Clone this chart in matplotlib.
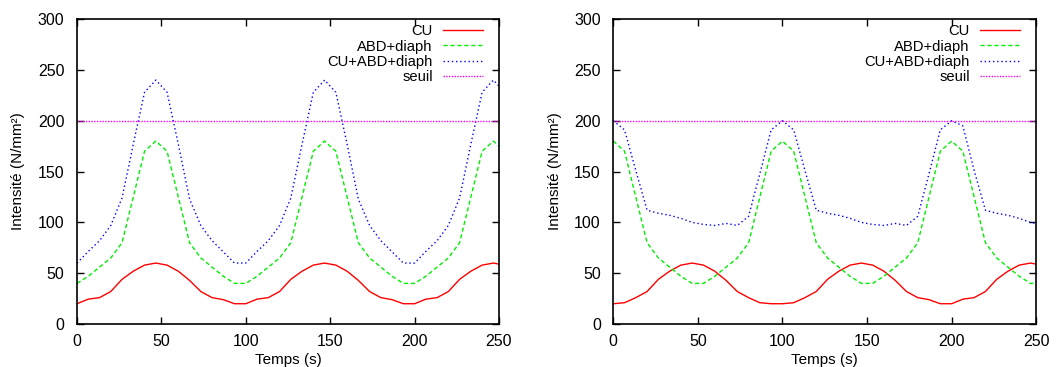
import numpy as np
import matplotlib.pyplot as plt

plt.rcParams['font.family'] = ['Liberation Sans', 'DejaVu Sans']
plt.rcParams['font.size'] = 11

# temps echantillonne (s)
temps = np.arange(39) * 100 / 15

# graphe de gauche
cu_g = [20, 24.5, 26, 32, 44, 52, 58, 60, 58, 52, 43, 32, 26, 24, 20,
        20, 24.5, 26, 32, 44, 52, 58, 60, 58, 52, 43, 32, 26, 24, 20,
        20, 24.5, 26, 32, 44, 52, 58, 60, 58]
abd_g = [40, 47, 56, 65, 80, 125, 170, 180, 170, 125, 80, 65, 56, 47, 40,
         40, 47, 56, 65, 80, 125, 170, 180, 170, 125, 80, 65, 56, 47, 40,
         40, 47, 56, 65, 80, 125, 170, 180, 170]
tot_g = [60, 71.5, 82, 97, 124, 177, 228, 240, 228, 177, 123, 97, 82, 71, 60,
         60, 71.5, 82, 97, 124, 177, 228, 240, 228, 177, 123, 97, 82, 71, 60,
         60, 71.5, 82, 97, 124, 177, 228, 240, 228]

# graphe de droite
cu_d = [20, 21, 26, 32, 44, 52, 58, 60, 58, 52, 43, 32, 26, 21, 20,
        20, 21, 26, 32, 44, 52, 58, 60, 58, 52, 43, 32, 26, 24, 20,
        20, 24.5, 26, 32, 44, 52, 58, 60, 58]
abd_d = [180, 170, 125, 80, 65, 56, 47, 40, 40, 47, 56, 65, 80, 125, 170,
         180, 170, 125, 80, 65, 56, 47, 40, 40, 47, 56, 65, 80, 125, 170,
         180, 170, 125, 80, 65, 56, 47, 40, 40]
tot_d = [200, 191, 151, 112, 109, 107, 104, 100, 98, 97, 99, 97, 106, 148, 191,
         200, 191, 151, 112, 109, 107, 104, 100, 98, 97, 99, 97, 106, 148, 191,
         200, 195, 151, 112, 109, 107, 104, 100, 98]

seuil = 200
labels = ['CU', 'ABD+diaph', 'CU+ABD+diaph', 'seuil']

fig = plt.figure(figsize=(10.61, 3.67), dpi=100)
ax1 = fig.add_axes([0.0726, 0.117, 0.3977, 0.831])
ax2 = fig.add_axes([0.578, 0.117, 0.3986, 0.831])

for ax, cu, abd, tot in [(ax1, cu_g, abd_g, tot_g), (ax2, cu_d, abd_d, tot_d)]:
    ax.plot(temps, cu, color='#ff0000', lw=1, label=labels[0])
    ax.plot(temps, abd, color='#00ee00', lw=1, ls=(0, (3, 2)), label=labels[1])
    ax.plot(temps, tot, color='#0000ff', lw=1, ls=(0, (1, 2)), label=labels[2])
    ax.axhline(seuil, color='#ff00ff', lw=1, ls=(0, (1, 1)), label=labels[3])
    ax.set_xlim(0, 250)
    ax.set_ylim(0, 300)
    ax.set_xticks(range(0, 251, 50))
    ax.set_yticks(range(0, 301, 50))
    ax.tick_params(direction='in', top=True, right=True, length=5, width=1,
                   labelsize=11.5)
    ax.tick_params(axis='y', pad=9)
    ax.tick_params(axis='x', pad=7)
    for s in ax.spines.values():
        s.set_linewidth(1.2)
    ax.set_xlabel('Temps (s)', labelpad=3)
    ax.set_ylabel('Intensité (N/mm²)', labelpad=9)
    ax.legend(loc='upper right', bbox_to_anchor=(0.993, 1.026),
              frameon=False, markerfirst=False,
              handlelength=2.7, handletextpad=0.7, labelspacing=0.08,
              borderaxespad=0.6, borderpad=0.3, fontsize=10.6)

plt.savefig('out.png', dpi=100)
